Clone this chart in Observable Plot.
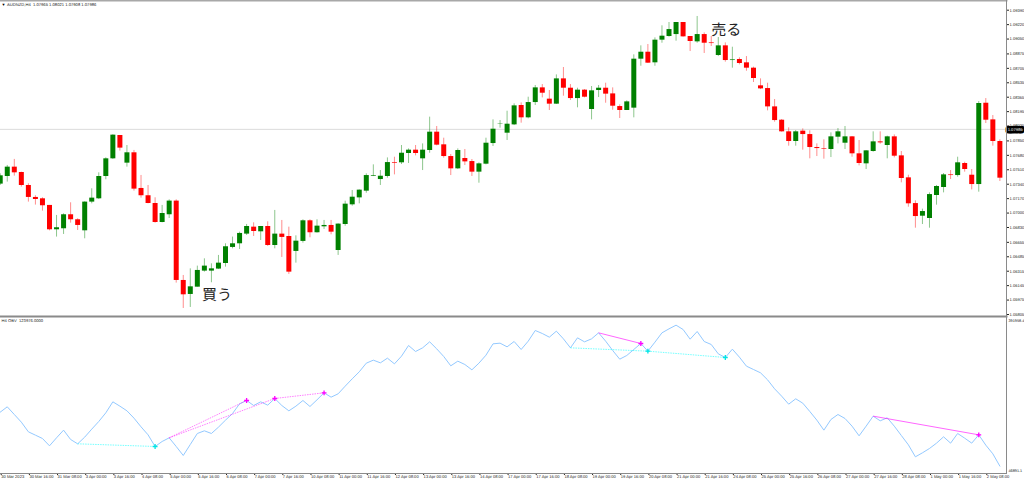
<!DOCTYPE html>
<html lang="ja">
<head>
<meta charset="utf-8">
<title>AUDNZD H4 OBV</title>
<script src="https://cdn.jsdelivr.net/npm/d3@7"></script>
<script src="https://cdn.jsdelivr.net/npm/@observablehq/plot@0.6"></script>
<style>
html,body{margin:0;padding:0;background:#fff;overflow:hidden}
svg{display:block}
svg text{text-rendering:geometricPrecision}
</style>
</head>
<body>
<div id="chart"></div>
<script>
const highs = [1.07463,1.07561,1.07632,1.07482,1.07345,1.07204,1.07180,1.07090,1.06972,1.06991,
1.07121,1.06933,1.07133,1.07286,1.07474,1.07651,1.07922,1.07914,1.07796,1.07738,
1.07443,1.07325,1.07180,1.07090,1.07156,1.07156,1.06265,1.06343,1.06375,1.06461,
1.06402,1.06501,1.06638,1.06717,1.06775,1.06866,1.06885,1.06842,1.06897,1.07031,
1.06913,1.06834,1.06732,1.06921,1.06921,1.06921,1.06913,1.06913,1.06874,1.07140,
1.07266,1.07273,1.07462,1.07568,1.07501,1.07650,1.07658,1.07796,1.07756,1.07796,
1.07815,1.08130,1.08020,1.07882,1.07690,1.07756,1.07749,1.07631,1.07592,1.07882,
1.08098,1.08090,1.08200,1.08287,1.08298,1.08365,1.08503,1.08514,1.08444,1.08628,
1.08715,1.08514,1.08471,1.08455,1.08491,1.08503,1.08530,1.08475,1.08275,1.08322,
1.08864,1.08970,1.08986,1.09064,1.09206,1.09245,1.09245,1.09245,1.09080,1.09316,
1.09123,1.09080,1.09068,1.09005,1.08954,1.08829,1.08844,1.08719,1.08581,1.08530,
1.08338,1.08102,1.08004,1.07972,1.07992,1.07969,1.07815,1.07863,1.07945,1.07996,
1.08020,1.07902,1.07855,1.07737,1.07957,1.07957,1.07906,1.07921,1.07725,1.07446,
1.07144,1.07046,1.07238,1.07325,1.07466,1.07501,1.07658,1.07599,1.07513,1.08314,
1.08349,1.08149,1.07863];
const lows = [1.07325,1.07365,1.07435,1.07306,1.07129,1.07094,1.07023,1.06791,1.06717,1.06748,
1.06881,1.06795,1.06697,1.07109,1.07160,1.07392,1.07632,1.07730,1.07541,1.07258,
1.07176,1.07109,1.06881,1.06885,1.06936,1.06175,1.05876,1.05888,1.06127,1.06304,
1.06179,1.06336,1.06363,1.06579,1.06571,1.06736,1.06724,1.06677,1.06607,1.06579,
1.06477,1.06277,1.06410,1.06646,1.06709,1.06764,1.06807,1.06744,1.06501,1.06845,
1.07081,1.07109,1.07234,1.07430,1.07325,1.07411,1.07450,1.07572,1.07584,1.07674,
1.07501,1.07705,1.07792,1.07647,1.07442,1.07513,1.07560,1.07431,1.07352,1.07568,
1.07784,1.08000,1.07855,1.08031,1.08059,1.08110,1.08267,1.08357,1.08208,1.08279,
1.08377,1.08326,1.08240,1.08357,1.08098,1.08361,1.08294,1.08212,1.08114,1.08208,
1.08122,1.08730,1.08762,1.08730,1.09001,1.09072,1.09025,1.09072,1.08903,1.09001,
1.08880,1.08962,1.08844,1.08778,1.08707,1.08746,1.08671,1.08538,1.08455,1.08204,
1.08071,1.07953,1.07788,1.07788,1.07741,1.07639,1.07666,1.07635,1.07654,1.07815,
1.07749,1.07658,1.07556,1.07513,1.07717,1.07811,1.07639,1.07650,1.07356,1.07069,
1.06822,1.06865,1.06822,1.07093,1.07238,1.07395,1.07423,1.07482,1.07273,1.07246,
1.08055,1.07788,1.07372];
const opens = [1.07341,1.07431,1.07541,1.07478,1.07325,1.07184,1.07168,1.07090,1.06803,1.06815,
1.06980,1.06921,1.06791,1.07129,1.07168,1.07431,1.07639,1.07914,1.07588,1.07710,
1.07290,1.07204,1.07113,1.06889,1.06980,1.07141,1.06206,1.06041,1.06127,1.06316,
1.06316,1.06340,1.06406,1.06595,1.06638,1.06752,1.06834,1.06779,1.06842,1.06618,
1.06752,1.06724,1.06548,1.06666,1.06909,1.06768,1.06838,1.06854,1.06559,1.06865,
1.07097,1.07179,1.07258,1.07434,1.07395,1.07431,1.07592,1.07592,1.07702,1.07741,
1.07639,1.07737,1.07953,1.07804,1.07666,1.07521,1.07643,1.07607,1.07482,1.07576,
1.07819,1.08047,1.07941,1.08039,1.08267,1.08122,1.08302,1.08475,1.08342,1.08283,
1.08581,1.08471,1.08349,1.08448,1.08220,1.08444,1.08471,1.08404,1.08255,1.08208,
1.08236,1.08813,1.08895,1.08770,1.09037,1.09080,1.09103,1.09245,1.09080,1.09017,
1.09103,1.09005,1.08856,1.08970,1.08797,1.08809,1.08770,1.08707,1.08499,1.08467,
1.08251,1.08094,1.07957,1.07843,1.07965,1.07925,1.07772,1.07760,1.07749,1.07894,
1.07823,1.07898,1.07698,1.07580,1.07725,1.07839,1.07796,1.07898,1.07674,1.07415,
1.07112,1.06963,1.06936,1.07207,1.07301,1.07450,1.07442,1.07584,1.07446,1.07336,
1.08294,1.08098,1.07843];
const closes = [1.07439,1.07541,1.07474,1.07325,1.07184,1.07160,1.07086,1.06803,1.06827,1.06980,
1.06921,1.06854,1.07129,1.07176,1.07431,1.07639,1.07918,1.07765,1.07710,1.07282,
1.07204,1.07113,1.06889,1.06995,1.07141,1.06206,1.06037,1.06131,1.06324,1.06375,
1.06343,1.06410,1.06603,1.06638,1.06760,1.06842,1.06783,1.06842,1.06618,1.06752,
1.06713,1.06304,1.06669,1.06909,1.06768,1.06846,1.06854,1.06775,1.06870,1.07105,
1.07187,1.07270,1.07442,1.07442,1.07434,1.07595,1.07584,1.07705,1.07741,1.07702,
1.07741,1.07953,1.07800,1.07666,1.07521,1.07737,1.07603,1.07482,1.07580,1.07823,
1.07988,1.08051,1.08047,1.08263,1.08122,1.08302,1.08475,1.08412,1.08283,1.08581,
1.08471,1.08349,1.08448,1.08365,1.08440,1.08471,1.08401,1.08259,1.08208,1.08310,
1.08813,1.08895,1.08766,1.09037,1.09084,1.09162,1.09245,1.09076,1.09021,1.09103,
1.09001,1.08997,1.08970,1.08797,1.08805,1.08762,1.08707,1.08585,1.08463,1.08251,
1.08090,1.07957,1.07843,1.07957,1.07925,1.07772,1.07760,1.07753,1.07898,1.07957,
1.07898,1.07698,1.07584,1.07733,1.07839,1.07827,1.07898,1.07670,1.07407,1.07109,
1.06959,1.07018,1.07218,1.07313,1.07450,1.07442,1.07592,1.07513,1.07336,1.08291,
1.08094,1.07843,1.07411];
const obv = [183456,195328,178262,161196,139678,132258,124838,108514,126322,143388,
122612,112966,127806,145614,162680,181972,206458,196812,186424,170100,
150808,133000,107030,118160,126322,107030,86996,111482,135968,141904,
135968,150066,165648,180488,202006,209426,198296,206458,199038,213878,
198296,186424,196812,209426,196070,210910,226492,216846,224266,241332,
257656,273238,292530,299208,293272,303660,291046,308112,331856,318500,
326662,340018,324436,307370,286594,296982,289562,277690,292530,310338,
335566,337050,328888,340760,322952,341502,365246,358568,350406,363762,
346696,326662,348922,340018,346696,360052,341502,320726,301434,309596,
322952,336308,319242,339276,360052,368956,377118,367472,345954,363020,
340760,334082,313306,305144,323694,305886,285852,278432,271012,255430,
235396,219072,201264,213136,203490,184940,165648,143388,167132,178262,
169358,152292,130774,152292,174552,164164,170842,152292,131516,110740,
84028,92932,102578,114450,128548,114450,135968,125580,114450,133000,
109998,90706,63252];

const priceTicks = [1.0939,1.0922,1.0905,1.08875,1.08705,1.08535,1.08365,1.08195,1.08025,1.0785,1.0768,
1.0751,1.0734,1.0717,1.07,1.0683,1.06655,1.06485,1.06315,1.06145,1.05975,1.05805];
const timeLabels = ["30 Mar 2023","30 Mar 16:00","31 Mar 08:00","3 Apr 00:00","3 Apr 16:00","4 Apr 08:00",
"5 Apr 00:00","5 Apr 16:00","6 Apr 08:00","7 Apr 00:00","7 Apr 16:00","10 Apr 08:00","11 Apr 00:00",
"11 Apr 16:00","12 Apr 08:00","13 Apr 00:00","13 Apr 16:00","14 Apr 08:00","17 Apr 00:00","17 Apr 16:00",
"18 Apr 08:00","19 Apr 00:00","19 Apr 16:00","20 Apr 08:00","21 Apr 00:00","21 Apr 16:00","24 Apr 08:00",
"25 Apr 00:00","25 Apr 16:00","26 Apr 08:00","27 Apr 00:00","27 Apr 16:00","28 Apr 08:00","1 May 00:00",
"1 May 16:00","2 May 08:00"];
const barsPerLabel = 4;
const currentPrice = 1.07986;
const obvMin = 46891.1, obvMax = 391958.4;
const headerText = "AUDNZD,H4  1.07965 1.08021 1.07908 1.07986";
const obvHeader = "H4 OBV  123976.0000";
const notes = [
  {i: 28.65, price: 1.06035, text: "買う"},
  {i: 101,  price: 1.09151, text: "売る"}
];
// divergence segments, as [from bar, to bar]
const magentaDashed = [[24,35],[24,39],[39,46]];
const magentaSolid  = [[85,91],[124,139]];
const cyanDashed    = [[11,22],[81,92],[92,103]];
const magentaMarks  = [35,39,46,91,139];
const cyanMarks     = [22,92,103];

const UP = "#008000", DOWN = "#ff0000", AXIS = "#8a8a8a", TXT = "#222";
const FONT = "'Liberation Sans', Arial, sans-serif";
const TICK_FONT = 4.1, HEAD_FONT = 4.15, OBV_FONT = 3.8;
const W = 1024, MR = 18;
const xDomain = [0.04, 142.94];

const bars = d3.range(highs.length).map(i => ({
  i, high: highs[i], low: lows[i], open: opens[i], close: closes[i],
  color: closes[i] >= opens[i] ? UP : DOWN
}));
const seg = a => a.map(([f, t]) => ({f, t, yf: obv[f], yt: obv[t]}));

const pricePlot = Plot.plot({
  width: W, height: 317,
  marginTop: 0, marginBottom: 1, marginLeft: 0, marginRight: MR,
  style: {background: "#fff", fontFamily: FONT, overflow: "visible"},
  x: {domain: xDomain, axis: null},
  y: {domain: [priceTicks[priceTicks.length - 1], priceTicks[0]], range: [314, 9.7], axis: null},
  marks: [
    Plot.ruleY([currentPrice], {stroke: "#dcdcdc", strokeWidth: 1}),
    Plot.ruleX(bars, {x: "i", y1: "low", y2: "high", stroke: "color", strokeWidth: 1, strokeOpacity: 0.45, clip: "frame"}),
    Plot.ruleX(bars, {x: "i", y1: "open", y2: "close", stroke: "color", strokeWidth: 5, clip: "frame"}),
    Plot.text(notes, {x: "i", y: "price", text: "text", textAnchor: "start", fontSize: 15,
      fontFamily: "'Noto Sans CJK JP', sans-serif", fill: "#222"}),
    Plot.axisY({anchor: "right", ticks: priceTicks, tickFormat: d => d.toFixed(5), tickSize: 2, tickPadding: 1,
      fontSize: TICK_FONT, fill: TXT, stroke: TXT, label: null}),
    Plot.text([currentPrice], {y: d => d, text: d => d.toFixed(5), frameAnchor: "right", dx: 16, textAnchor: "end",
      fontSize: TICK_FONT, fill: "#fff", stroke: "#000", strokeWidth: 5, paintOrder: "stroke"}),
    Plot.frame({anchor: "top", stroke: "#a8a8a8", strokeWidth: 2}),
    Plot.frame({anchor: "right", stroke: AXIS, strokeWidth: 1}),
    Plot.frame({anchor: "bottom", stroke: AXIS, strokeWidth: 2}),
    Plot.text([headerText], {text: d => d, frameAnchor: "top-left", dx: 6.5, dy: 2.5, fontSize: HEAD_FONT, fill: TXT}),
    Plot.text(["▼"], {text: d => d, frameAnchor: "top-left", dx: 1, dy: 2.5, fontSize: 4, fill: "#000"})
  ]
});

const obvPlot = Plot.plot({
  width: W, height: 164,
  marginTop: 0, marginBottom: 8, marginLeft: 0, marginRight: MR,
  style: {background: "#fff", fontFamily: FONT, overflow: "visible"},
  x: {domain: xDomain, axis: null},
  y: {domain: [obvMin, obvMax], range: [156, 1], axis: null},
  marks: [
    Plot.line(obv, {x: (d, i) => i, y: d => d, stroke: "#93c9ff", strokeWidth: 1, clip: "frame"}),
    Plot.link(seg(cyanDashed), {x1: "f", x2: "t", y1: "yf", y2: "yt", stroke: "#00ffff", strokeWidth: 1, strokeDasharray: "1.5,1", strokeOpacity: 0.55}),
    Plot.link(seg(magentaDashed), {x1: "f", x2: "t", y1: "yf", y2: "yt", stroke: "#ff00ff", strokeWidth: 1, strokeDasharray: "1.5,1", strokeOpacity: 0.5}),
    Plot.link(seg(magentaSolid), {x1: "f", x2: "t", y1: "yf", y2: "yt", stroke: "#ff00ff", strokeWidth: 1, strokeOpacity: 0.6}),
    Plot.dot(magentaMarks, {x: d => d, y: d => obv[d], symbol: "plus", r: 1.7, stroke: "#ff00ff", strokeWidth: 1.3}),
    Plot.dot(cyanMarks, {x: d => d, y: d => obv[d], symbol: "plus", r: 1.7, stroke: "#00e5e5", strokeWidth: 1.3}),
    Plot.axisX({anchor: "bottom", ticks: timeLabels.map((_, k) => k * barsPerLabel),
      tickFormat: d => timeLabels[d / barsPerLabel], tickSize: 2, tickPadding: 0,
      textAnchor: "start", dx: 1, fontSize: TICK_FONT, fill: TXT, stroke: TXT, label: null}),
    Plot.axisY({anchor: "right", ticks: [obvMax], tickFormat: d => d.toFixed(1), tickSize: 0, tickPadding: 2, dy: 2.5,
      fontSize: OBV_FONT, fill: TXT, label: null}),
    Plot.axisY({anchor: "right", ticks: [obvMin], tickFormat: d => d.toFixed(1), tickSize: 0, tickPadding: 2, dy: -3,
      fontSize: OBV_FONT, fill: TXT, label: null}),
    Plot.frame({anchor: "right", stroke: AXIS, strokeWidth: 1}),
    Plot.frame({anchor: "bottom", stroke: AXIS, strokeWidth: 1}),
    Plot.text([obvHeader], {text: d => d, frameAnchor: "top-left", dx: 1, dy: 1.5, fontSize: HEAD_FONT, fill: TXT})
  ]
});

document.getElementById("chart").append(pricePlot, obvPlot);
</script>
</body>
</html>
